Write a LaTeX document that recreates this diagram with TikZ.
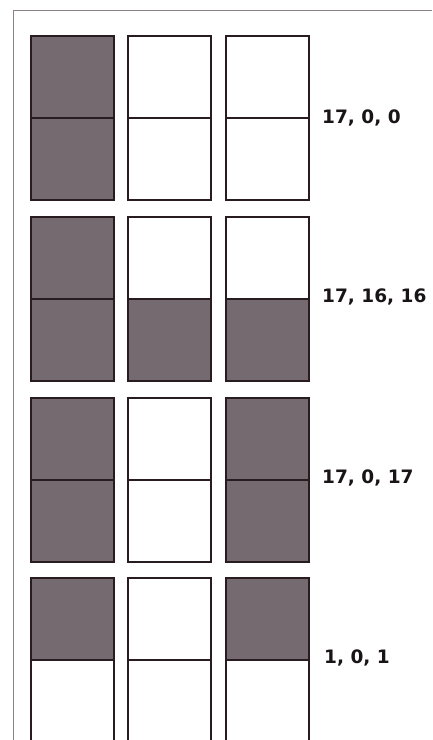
\documentclass[tikz,border=0pt]{standalone}
\usepackage{fontspec}
\setmainfont{DejaVu Sans}
\definecolor{shade}{RGB}{116,106,111}
\definecolor{edge}{RGB}{40,28,32}
\definecolor{framec}{RGB}{140,130,132}
\definecolor{txt}{RGB}{25,20,22}
\tikzset{
  half/.style={draw=edge, line width=2pt, minimum width=83pt, minimum height=82pt, inner sep=0pt, anchor=north west},
  dark/.style={half, fill=shade},
  light/.style={half, fill=white},
  lbl/.style={anchor=west, text=txt, font=\fontsize{18.5}{21}\selectfont\bfseries, inner sep=0pt}
}
\begin{document}
\begin{tikzpicture}[x=1pt,y=-1pt]
\clip (0,0) rectangle (432,740);
\fill[white] (0,0) rectangle (432,740);
\coordinate (ftop) at (432,10);
\coordinate (fcorner) at (13.5,10);
\coordinate (fbot) at (13.5,740);
\draw[framec, line width=1pt] (ftop) -- (fcorner) -- (fbot);
% row 1
\node[dark]  (r1c1t) at (30,35) {};
\node[dark]  (r1c1b) at (30,117) {};
\node[light] (r1c2t) at (127,35) {};
\node[light] (r1c2b) at (127,117) {};
\node[light] (r1c3t) at (225,35) {};
\node[light] (r1c3b) at (225,117) {};
\node[lbl] (l1) at (322,118) {17, 0, 0};
% row 2
\node[dark]  (r2c1t) at (30,216) {};
\node[dark]  (r2c1b) at (30,298) {};
\node[light] (r2c2t) at (127,216) {};
\node[dark]  (r2c2b) at (127,298) {};
\node[light] (r2c3t) at (225,216) {};
\node[dark]  (r2c3b) at (225,298) {};
\node[lbl] (l2) at (322,297) {17, 16, 16};
% row 3
\node[dark]  (r3c1t) at (30,397) {};
\node[dark]  (r3c1b) at (30,479) {};
\node[light] (r3c2t) at (127,397) {};
\node[light] (r3c2b) at (127,479) {};
\node[dark]  (r3c3t) at (225,397) {};
\node[dark]  (r3c3b) at (225,479) {};
\node[lbl] (l3) at (322,478) {17, 0, 17};
% row 4
\node[dark]  (r4c1t) at (30,577) {};
\node[light] (r4c1b) at (30,659) {};
\node[light] (r4c2t) at (127,577) {};
\node[light] (r4c2b) at (127,659) {};
\node[dark]  (r4c3t) at (225,577) {};
\node[light] (r4c3b) at (225,659) {};
\node[lbl] (l4) at (324,658) {1, 0, 1};
\end{tikzpicture}
\end{document}
